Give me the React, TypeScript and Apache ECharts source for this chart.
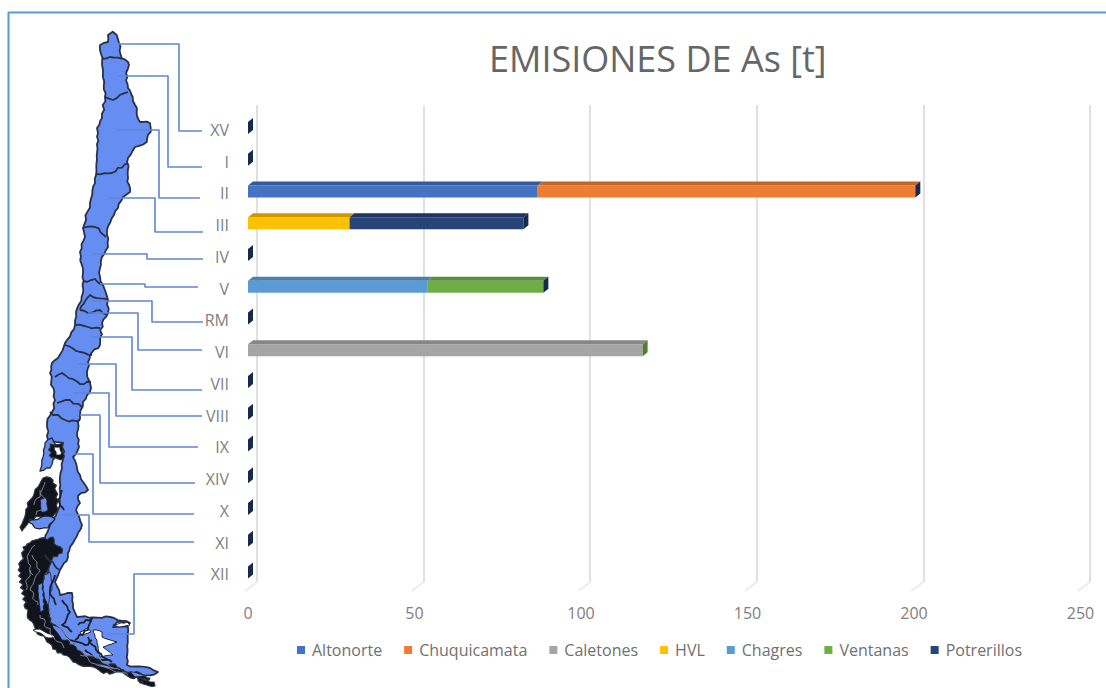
import React, { useEffect, useRef } from "react";
import * as echarts from "echarts";

const regions = ["XV", "I", "II", "III", "IV", "V", "RM", "VI", "VII", "VIII", "IX", "XIV", "X", "XI", "XII"];
const xTicks = [0, 50, 100, 150, 200, 250];
const altonorte = [0, 0, 87, 0, 0, 0, 0, 0, 0, 0, 0, 0, 0, 0, 0];
const chuquicamata = [0, 0, 113.4, 0, 0, 0, 0, 0, 0, 0, 0, 0, 0, 0, 0];
const caletones = [0, 0, 0, 0, 0, 0, 0, 118.5, 0, 0, 0, 0, 0, 0, 0];
const hvl = [0, 0, 0, 30.5, 0, 0, 0, 0, 0, 0, 0, 0, 0, 0, 0];
const chagres = [0, 0, 0, 0, 0, 54, 0, 0, 0, 0, 0, 0, 0, 0, 0];
const ventanas = [0, 0, 0, 0, 0, 34.7, 0, 0, 0, 0, 0, 0, 0, 0, 0];
const potrerillos: (number | null)[] = [0, 0, 0, 52.2, 0, 0, 0, null, 0, 0, 0, 0, 0, 0, 0];

const seriesNames = ["Altonorte", "Chuquicamata", "Caletones", "HVL", "Chagres", "Ventanas", "Potrerillos"];
const seriesValues = [altonorte, chuquicamata, caletones, hvl, chagres, ventanas, potrerillos];
const colors = ["#4472c4", "#ed7d31", "#a5a5a5", "#ffc000", "#5b9bd5", "#70ad47", "#264478"];
const topColors = ["#345a9e", "#c4652a", "#868686", "#cc9a00", "#4a7fae", "#5a8c3a", "#1d3560"];
const sideColors = ["#2f5597", "#b85f23", "#7f7f7f", "#bf9000", "#41719c", "#4f7f2f", "#16294f"];

// Decorative map of Chile, in page pixels.
const mapBody = [[112.7,31.7],[116.7,35],[119,43],[121.7,58],[128,62],[129,65],[126,73],[128,88],[132.7,97],[136.7,112],[140,122],[150,123],[150.7,128],[146.7,142],[135,147],[128,158],[128,178],[130,192],[123,197],[118,208],[107,230],[108,247],[102,257],[99,273],[103,285],[108,300],[108,313],[102,323],[100,345],[90,355],[87,373],[91,388],[83,402],[80,415],[77,433],[79,447],[73,457],[80,475],[88,490],[78,496],[80,503],[76,510],[82,525],[70,547],[68,557],[60,570],[55,582],[60,595],[72,593],[73,608],[77,617],[110,617],[130,623],[117,622],[113,627],[128,627],[127,665],[150,668],[158,672],[143,677],[117,670],[93,660],[70,647],[60,634],[50,622],[47,600],[47,575],[50,560],[45,540],[50,525],[60,505],[60,477],[63,460],[63,443],[48,440],[47,423],[52,412],[55,400],[50,373],[52,363],[58,358],[65,343],[75,325],[76,312],[83,293],[83,273],[80,252],[85,237],[83,228],[90,203],[96,175],[98,133],[97,128],[102,118],[105,97],[102,62],[100,45],[108,42],[108,35]];
const mapChiloe = [[45,443],[52,438],[60,453],[53,460],[50,468],[40,471],[43,457]];
const mapTaitao = [[28,522],[45,516],[55,519],[48,528],[35,528]];
const mapDarkBlobs = [
  [[43,478],[53,480],[58,500],[54,520],[45,516],[30,519],[22,531],[20,527],[28,507],[38,487]],
  [[20,567],[23,547],[35,540],[53,537],[62,553],[52,560],[47,572],[43,582],[47,602],[50,622],[60,632],[70,645],[93,658],[117,667],[133,673],[150,678],[140,683],[137,677],[107,672],[73,662],[47,642],[35,628],[25,608]],
  [[138,678],[150,682],[155,686],[143,684]],
  [[50,444],[63,443],[64,458],[52,458]],
];
const mapBlueBits = [
  [[44,575],[50,572],[52,590],[47,605],[43,590]],
  [[38,585],[42,583],[44,610],[40,612]],
  [[52,625],[60,628],[70,640],[62,640]],
  [[40,500],[46,498],[48,510],[41,512]],
  [[92,662],[110,667],[124,670],[108,669]],
  [[130,672],[145,675],[135,677]],
];
const mapHoles = [
  [[93,630],[102,632],[102,637],[117,642],[103,647],[113,655],[100,657],[97,643]],
  [[113,625],[127,622],[130,625],[118,627]],
  [[33,630],[40,629],[55,637],[48,638]],
  [[54,447],[60,447],[61,455],[56,455]],
  [[80,632],[88,628],[91,632],[82,636]],
];
const mapBorders = [
  [[102,59],[110,57],[122,59]],
  [[105,97],[113,100],[128,92]],
  [[96,174],[112,173],[128,163]],
  [[83,228],[95,227],[106,237]],
  [[83,281],[95,279],[103,285]],
  [[80,310],[90,295],[108,300]],
  [[80,310],[88,313],[100,310],[107,315]],
  [[75,325],[88,327],[100,328]],
  [[65,345],[80,352],[92,355]],
  [[55,377],[62,373],[80,384],[91,382]],
  [[57,403],[70,400],[82,407]],
  [[50,412],[65,420],[80,420]],
  [[45,555],[53,562],[60,570]],
];
const mapScratches = [
  [[62,600],[70,612],[62,625],[72,632]],
  [[78,625],[92,618],[88,630],[75,640]],
  [[70,640],[85,645],[92,640]],
  [[85,650],[100,660],[112,662]],
  [[55,575],[50,590],[56,605]],
  [[62,490],[58,500],[64,510]],
  [[88,637],[96,650],[108,660]],
];
const mapGreyScratches = [
  [[32,555],[40,570],[30,590],[38,605]],
  [[40,490],[46,505],[36,515]],
  [[50,610],[60,628],[74,645],[96,658],[120,670]],
  [[30,570],[26,590]],
  [[35,545],[28,560],[33,575]],
  [[40,615],[50,632],[64,648]],
  [[80,655],[100,666],[128,675]],
  [[45,482],[40,497],[34,505]],
];
const connectors = [
  [[118,44],[179,44],[179,131],[202,131]],
  [[117,76],[168,76],[168,167],[202,167]],
  [[116,130],[159,130],[159,198],[200,198]],
  [[108,198],[155,198],[155,232],[203,232]],
  [[92,254],[147,254],[147,259],[203,259]],
  [[100,284],[145,284],[145,287],[198,287]],
  [[92,301],[152,301],[152,322],[203,322]],
  [[88,313],[138,313],[138,350],[202,350]],
  [[92,337],[132,337],[132,390],[202,390]],
  [[77,364],[116,364],[116,416],[202,416]],
  [[73,393],[109,393],[109,447],[198,447]],
  [[80,415],[100,415],[100,483],[195,483]],
  [[73,454],[93,454],[93,514],[194,514]],
  [[62,515],[89,515],[89,542],[194,542]],
  [[108,634],[134,634],[134,574],[194,574]],
];

// Roughens the decorative map outline so the coast does not look ruled.
function rough(pts: number[][], amp: number, step: number, closed: boolean) {
  const out: number[][] = [];
  const n = closed ? pts.length : pts.length - 1;
  for (let i = 0; i < n; i++) {
    const a = pts[i];
    const b = pts[(i + 1) % pts.length];
    const len = Math.hypot(b[0] - a[0], b[1] - a[1]);
    const k = Math.max(1, Math.round(len / step));
    for (let j = 0; j < k; j++) {
      const t = j / k;
      const x = a[0] + (b[0] - a[0]) * t;
      const y = a[1] + (b[1] - a[1]) * t;
      const w = j === 0 ? 0 : amp * (Math.sin(x * 1.7 + y * 0.9) + 0.6 * Math.sin(x * 0.6 - y * 2.3));
      out.push([x + ((b[1] - a[1]) / len) * w, y - ((b[0] - a[0]) / len) * w]);
    }
  }
  if (!closed) out.push(pts[pts.length - 1]);
  return out;
}

const DX = 5;
const DY = -4;
const HALF = 6;

function buildFaces() {
  const faces: number[][] = [];
  regions.forEach((_, r) => {
    let acc = 0;
    let last = 0;
    seriesValues.forEach((vals, s) => {
      const v = vals[r];
      if (v === null) return;
      last = s;
      if (v > 0) faces.push([acc, acc + v, r, s, 0]);
      acc += v;
    });
    faces.push([acc, acc, r, last, 1]);
  });
  return faces;
}

export default function App() {
  const ref = useRef<HTMLDivElement>(null);
  useEffect(() => {
    const chart = echarts.init(ref.current!, undefined, { renderer: "svg" });
    const lineEl = (pts: number[][], stroke: string, lineWidth: number, z = 5) => ({
      type: "polyline", z, shape: { points: pts }, style: { stroke, lineWidth, fill: "none", lineJoin: "round" }, silent: true,
    });
    const polyEl = (pts: number[][], fill: string, stroke: string, lineWidth: number, z = 3) => ({
      type: "polygon", z, shape: { points: pts }, style: { fill, stroke, lineWidth, lineJoin: "round" }, silent: true,
    });
    const blue = "#668ef2";
    const edge = "#2a3045";
    const graphicEls: any[] = [
      lineEl([[8.5, 688], [8.5, 12.5], [1106, 12.5]], "#5b9bd5", 2, 1),
      polyEl(rough(mapBody, 0.8, 4, true), blue, edge, 1.8),
      polyEl(rough(mapChiloe, 0.7, 4, true), blue, edge, 1.4),
      ...mapDarkBlobs.map((p) => polyEl(rough(p, 1.6, 3, true), "#11141d", "#30353f", 1.2, 4)),
      polyEl(rough(mapTaitao, 0.8, 4, true), blue, "#1a1f2e", 1.2, 5),
      ...mapBlueBits.map((p) => polyEl(rough(p, 0.6, 3, true), blue, "#1a1f2e", 0.8, 5)),
      ...mapHoles.map((p) => polyEl(rough(p, 0.5, 3, true), "#ffffff", "#20242f", 1, 5)),
      ...mapBorders.map((p) => lineEl(rough(p, 1, 4, false), edge, 1.8, 5)),
      ...mapScratches.map((p) => lineEl(rough(p, 1, 3, false), "#1a1f2e", 1.8, 5)),
      ...mapGreyScratches.map((p) => lineEl(rough(p, 1.4, 3, false), "#8a8f9c", 0.9, 6)),
      ...connectors.map((p) => lineEl(p, "#5f86d3", 1.6, 7)),
    ];

    const faces = buildFaces();
    const option: any = {
      animation: false,
      backgroundColor: "#ffffff",
      title: {
        text: "EMISIONES DE As [t]",
        left: 489,
        top: 40,
        textStyle: { fontFamily: "Open Sans", fontSize: 36, fontWeight: 400, color: "#666666" },
        padding: 0,
      },
      legend: {
        data: seriesNames,
        left: 297,
        top: 642,
        icon: "rect",
        itemWidth: 8,
        itemHeight: 8,
        itemGap: 22,
        padding: 0,
        textStyle: { fontFamily: "Open Sans", fontSize: 16, color: "#707070", padding: [0, 0, 0, 2] },
      },
      grid: [
        { left: 248, width: 832.5, top: 112, height: 476.3 },
        { left: 257, width: 833, top: 105, height: 477 },
        { left: 248, width: 832.5, top: 114, height: 476.3 },
      ],
      xAxis: [
        {
          type: "value", gridIndex: 0, min: 0, max: 250, interval: 50,
          axisLine: { show: false }, axisTick: { show: false }, splitLine: { show: false },
          axisLabel: { margin: 17, fontFamily: "Open Sans", fontSize: 16, color: "#808080" },
        },
        {
          type: "value", gridIndex: 1, min: 0, max: 250, interval: 50,
          axisLine: { show: false }, axisTick: { show: false }, axisLabel: { show: false },
          splitLine: { show: true, lineStyle: { color: "#e0e0e0", width: 2 } },
        },
        { type: "value", gridIndex: 2, min: 0, max: 250, show: false, splitLine: { show: false } },
      ],
      yAxis: [
        {
          type: "category", gridIndex: 0, data: regions, inverse: true,
          axisLine: { show: false }, axisTick: { show: false }, splitLine: { show: false },
          axisLabel: { show: false },
        },
        { type: "value", gridIndex: 1, min: 0, max: 1, show: false, splitLine: { show: false } },
        {
          type: "category", gridIndex: 2, data: regions, inverse: true,
          axisLine: { show: false }, axisTick: { show: false }, splitLine: { show: false },
          axisLabel: { margin: 19, fontFamily: "Open Sans", fontSize: 16, color: "#808080", interval: 0 },
        },
      ],
      graphic: { elements: graphicEls },
      series: [
        {
          type: "custom",
          name: "floor",
          xAxisIndex: 1,
          yAxisIndex: 1,
          silent: true,
          z: 1,
          data: xTicks.map((t) => [t]),
          encode: { x: 0 },
          renderItem: (params: any, api: any) => {
            const x = api.coord([api.value(0), 0])[0];
            const bottom = params.coordSys.y + params.coordSys.height;
            return {
              type: "line",
              shape: { x1: x, y1: bottom, x2: x - 12, y2: bottom + 9 },
              style: { stroke: "#ececec", lineWidth: 2 },
            };
          },
        },
        ...seriesNames.map((name, s) => ({
          type: "bar",
          name,
          stack: "total",
          barWidth: 12,
          xAxisIndex: 0,
          yAxisIndex: 0,
          z: 3,
          itemStyle: { color: colors[s] },
          data: seriesValues[s],
        })),
        {
          type: "custom",
          name: "faces",
          xAxisIndex: 0,
          yAxisIndex: 0,
          silent: true,
          z: 4,
          data: faces,
          encode: { x: [0, 1], y: 2 },
          renderItem: (_: any, api: any) => {
            const a = api.coord([api.value(0), api.value(2)]);
            const b = api.coord([api.value(1), api.value(2)]);
            const s = api.value(3);
            const side = api.value(4) === 1;
            const pts = side
              ? [[b[0], b[1] - HALF], [b[0] + DX, b[1] - HALF + DY], [b[0] + DX, b[1] + HALF + DY], [b[0], b[1] + HALF]]
              : [[a[0], a[1] - HALF], [a[0] + DX, a[1] - HALF + DY], [b[0] + DX, b[1] - HALF + DY], [b[0], b[1] - HALF]];
            return {
              type: "polygon",
              shape: { points: pts },
              style: { fill: side ? sideColors[s] : topColors[s] },
            };
          },
        },
      ],
    };
    chart.setOption(option);
    return () => chart.dispose();
  }, []);
  return <div ref={ref} style={{ position: "fixed", left: 0, top: 0, width: 1106, height: 688 }} />;
}
